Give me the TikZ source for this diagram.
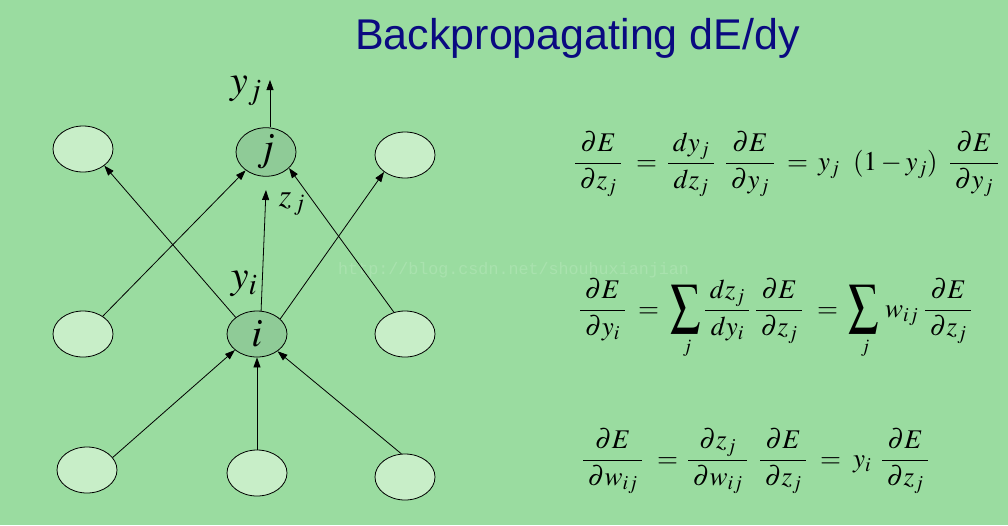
\documentclass[tikz,border=0pt]{standalone}
\usepackage{amsmath}
\usepackage{graphicx}
\usepackage{mathptmx}
\usepackage[no-math]{fontspec}
\setmainfont{Liberation Serif}
\newfontfamily\titlefont{Liberation Sans}
\newfontfamily\wmfont{Liberation Mono}
\usetikzlibrary{arrows.meta,shapes.geometric}
\definecolor{bg}{HTML}{9ADCA0}
\definecolor{lightnode}{HTML}{C8EEC8}
\definecolor{darknode}{HTML}{8FCB97}
\definecolor{titleblue}{HTML}{0A0A80}
\definecolor{wm}{HTML}{A9E2AE}
\newcommand\myfrac[2]{\frac{\mkern3mu#1\mkern3mu}{\mkern3mu#2\mkern3mu}}
\newcommand\bigsum{\scalebox{1.1}[1.45]{$\displaystyle\sum$}}
\begin{document}
\begin{tikzpicture}[x=1pt,y=-1pt,
  unit/.style={draw=black,line width=0.8pt,ellipse,minimum width=60pt,minimum height=46pt,inner sep=0pt},
  lunit/.style={unit,fill=lightnode},
  dunit/.style={unit,fill=darknode,font=\fontsize{40}{40}\selectfont},
  arr/.style={line width=0.8pt,-{Triangle[length=10pt,width=7pt]}},
  lab/.style={inner sep=0pt,font=\fontsize{40}{40}\selectfont},
  eqp/.style={inner sep=0pt,anchor=base west,font=\fontsize{27}{30}\selectfont},
  sumsym/.style={inner sep=0pt,anchor=center,font=\fontsize{27}{30}\selectfont},
  sumsub/.style={inner sep=0pt,anchor=center,font=\fontsize{19}{22}\selectfont}
]
\fill[bg] (0,0) rectangle (1008,525);
\useasboundingbox (0,0) rectangle (1008,525);
% title
\node[inner sep=0pt,anchor=base west,text=titleblue,font=\titlefont\fontsize{43}{43}\selectfont] (title) at (355,49) {Backpropagating dE/dy};
% watermark
\node[inner sep=0pt,anchor=base west,text=wm,font=\wmfont\fontsize{16.7}{17}\selectfont] (wmark) at (338,274) {http://blog.csdn.net/shouhuxianjian};
% units
\node[lunit] (tl) at (83,149) {};
\node[dunit] (j) at (266,152) {$j$};
\node[lunit] (tr) at (405,155) {};
\node[lunit] (ml) at (83,334) {};
\node[dunit] (i) at (257,334) {$i$};
\node[lunit] (mr) at (405,334) {};
\node[lunit] (bl) at (87,470) {};
\node[lunit] (bm) at (257,473) {};
\node[lunit] (br) at (405,477) {};
% coordinates
\coordinate (yout) at (270,80);
\coordinate (zj) at (266,190);
% connectors
\draw[arr] (j.north -| yout) -- (yout);
\draw[arr] (i.80) -- (zj);
\draw[arr] (i.142) -- (tl.-38);
\draw[arr] (i.33) -- (tr.219);
\draw[arr] (ml.42) -- (j.222);
\draw[arr] (mr.117) -- (j.-35);
\draw[arr] (bl.26) -- (i.216);
\draw[arr] (bm) -- (i);
\draw[arr] (br.99) -- (i.-40);
% labels
\node[lab] (yjl) at (246,91) {$y_j$};
\node[lab,font=\fontsize{32}{32}\selectfont] (zjl) at (292,204) {$z_{\,j}$};
\node[lab] (yil) at (244,284) {$y_i$};
% equation 1
\node[eqp] (e1a) at (574,170) {$\displaystyle\myfrac{\partial E}{\partial z_j}$};
\node[eqp] (e1q) at (636,170) {$=$};
\node[eqp] (e1b) at (667,170) {$\displaystyle\myfrac{dy_j}{dz_j}$};
\node[eqp] (e1c) at (725,170) {$\displaystyle\myfrac{\partial E}{\partial y_j}$};
\node[eqp] (e1r) at (787,170) {$=$};
\node[eqp] (e1d) at (818,170) {$y_j$};
\node[eqp] (e1e) at (853,170) {$(1-y_j)$};
\node[eqp] (e1f) at (949,170) {$\displaystyle\myfrac{\partial E}{\partial y_j}$};
% equation 2
\node[eqp] (e2a) at (579,317) {$\displaystyle\myfrac{\partial E}{\partial y_i}$};
\node[eqp] (e2q) at (638,317) {$=$};
\node[sumsym] (e2s) at (686,309.5) {\bigsum};
\node[sumsub] (e2sj) at (687,348) {$j$};
\node[eqp] (e2b) at (704,317) {$\displaystyle\myfrac{dz_j}{dy_i}$};
\node[eqp] (e2c) at (755,317) {$\displaystyle\myfrac{\partial E}{\partial z_j}$};
\node[eqp] (e2r) at (817,317) {$=$};
\node[sumsym] (e2t) at (864,309.5) {\bigsum};
\node[sumsub] (e2tj) at (865,348) {$j$};
\node[eqp] (e2w) at (885,317) {$w_{ij}$};
\node[eqp] (e2d) at (924,317) {$\displaystyle\myfrac{\partial E}{\partial z_j}$};
% equation 3
\node[eqp] (e3a) at (582,467) {$\displaystyle\myfrac{\partial E}{\partial w_{ij}}$};
\node[eqp] (e3q) at (657,467) {$=$};
\node[eqp] (e3b) at (687,467) {$\displaystyle\myfrac{\partial z_j}{\partial w_{ij}}$};
\node[eqp] (e3c) at (759,467) {$\displaystyle\myfrac{\partial E}{\partial z_j}$};
\node[eqp] (e3r) at (820,467) {$=$};
\node[eqp] (e3y) at (853,467) {$y_i$};
\node[eqp] (e3d) at (881,467) {$\displaystyle\myfrac{\partial E}{\partial z_j}$};
\end{tikzpicture}
\end{document}
